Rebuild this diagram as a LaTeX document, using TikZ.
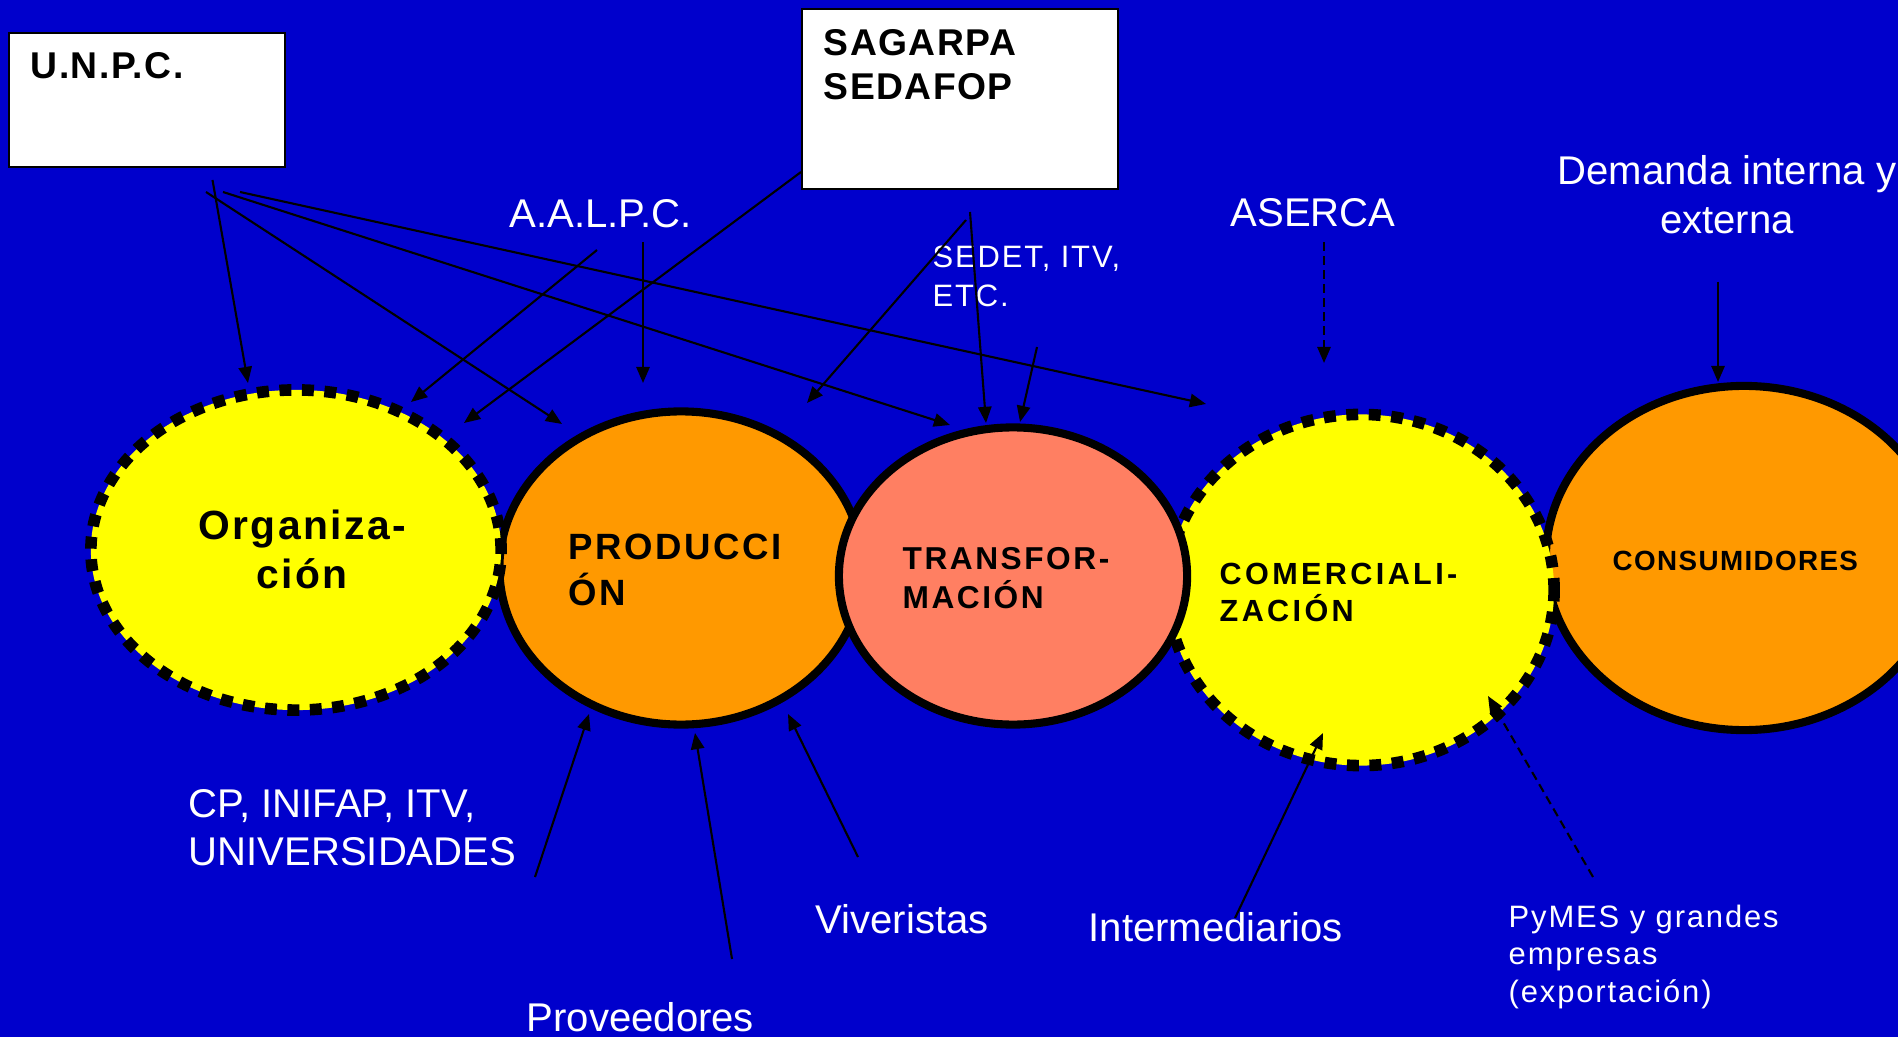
\documentclass[tikz,border=0pt]{standalone}
\usepackage{fontspec}
\setmainfont{Liberation Sans}
\usetikzlibrary{shapes.geometric,arrows.meta}
\definecolor{bg}{RGB}{0,0,204}
\definecolor{ylw}{RGB}{255,255,0}
\definecolor{org}{RGB}{255,153,0}
\definecolor{slm}{RGB}{255,127,98}
\newcommand\linestwo[2]{\vtop{\hbox{#1}\hbox{#2}}}
\newcommand\linesthree[3]{\vtop{\hbox{#1}\hbox{#2}\hbox{#3}}}
\newcommand\linestwoc[2]{\vtop{\halign{\hfil##\hfil\cr#1\cr#2\cr}}}
\tikzset{
  lbl/.style={text=white, inner sep=0pt, anchor=base west, font=\fontsize{11.4}{13.7}\selectfont},
  smalllbl/.style={text=white, inner sep=0pt, anchor=base west, font=\fontsize{8.8}{11}\selectfont\addfontfeatures{LetterSpace=6}},
  boxlbl/.style={inner sep=0pt, anchor=base west, font=\fontsize{10.6}{12.5}\selectfont\bfseries\addfontfeatures{LetterSpace=4}},
  elllbl/.style={inner sep=0pt, anchor=base west},
  solidell/.style={ellipse, draw=black, line width=2.3pt, inner sep=0pt},
  dashell/.style={ellipse, draw=black, line width=3.3pt, dash pattern=on 3.4pt off 3.0pt, inner sep=0pt},
  conn/.style={draw=black, line width=0.6pt, -{Triangle[length=4.6pt,width=3.8pt]}},
  dconn/.style={conn, dash pattern=on 2.5pt off 1.5pt},
  wbox/.style={draw=black, fill=white, line width=0.6pt, inner sep=0pt, anchor=north west},
}
\begin{document}
\begin{tikzpicture}[x=0.01cm,y=-0.01cm]
\useasboundingbox (0,0) rectangle (1898,1037);
\clip (0,0) rectangle (1898,1037);
\fill[bg] (0,0) rectangle (1898,1037);

% ellipses
\node[solidell, fill=org, minimum width=3.63cm, minimum height=3.13cm] (prod) at (681,568) {};
\node[dashell, fill=ylw, minimum width=4.10cm, minimum height=3.20cm] (orgz) at (296,550) {};
\node[solidell, fill=org, minimum width=3.96cm, minimum height=3.44cm] (cons) at (1744,558) {};
\node[dashell, fill=ylw, minimum width=3.86cm, minimum height=3.51cm] (comer) at (1361,590) {};
\node[solidell, fill=slm, minimum width=3.48cm, minimum height=2.97cm] (trans) at (1013,576) {};

% ellipse labels
\node[inner sep=0pt, anchor=base, font=\fontsize{11.6}{13.7}\selectfont\bfseries\addfontfeatures{LetterSpace=6}] (torg) at (302,540) {\linestwoc{Organiza-}{ción}};
\node[elllbl, font=\fontsize{10.4}{13.1}\selectfont\bfseries\addfontfeatures{LetterSpace=7}] (tprod) at (568,559) {\linestwo{PRODUCCI}{ÓN}};
\node[elllbl, font=\fontsize{9}{11.1}\selectfont\bfseries\addfontfeatures{LetterSpace=8}] (ttrans) at (902,569) {\linestwo{TRANSFOR-}{MACIÓN}};
\node[elllbl, font=\fontsize{8.7}{10.8}\selectfont\bfseries\addfontfeatures{LetterSpace=11}] (tcomer) at (1219,584) {\linestwo{COMERCIALI-}{ZACIÓN}};
\node[elllbl, font=\fontsize{7.9}{9.5}\selectfont\bfseries\addfontfeatures{LetterSpace=5}] (tcons) at (1612,570) {CONSUMIDORES};

% boxes
\node[wbox, minimum width=2.76cm, minimum height=1.34cm] (unpc) at (8,32) {};
\node[boxlbl] (tunpc) at (30,79) {U.N.P.C.};
\node[wbox, minimum width=3.16cm, minimum height=1.80cm] (sag) at (801,8) {};
\node[boxlbl] (tsag) at (823,56) {\linestwo{SAGARPA}{SEDAFOP}};

% free labels
\node[lbl] (aalpc) at (509,228) {A.A.L.P.C.};
\node[smalllbl] (sedet) at (932,268) {\linestwo{SEDET, ITV,}{ETC.}};
\node[lbl] (aserca) at (1230,227) {ASERCA};
\node[lbl, anchor=base] (dem) at (1727,185) {\linestwoc{Demanda interna y}{externa}};
\node[lbl] (cp) at (188,817) {\linestwo{CP, INIFAP, ITV,}{UNIVERSIDADES}};
\node[lbl] (viv) at (815,933) {Viveristas};
\node[lbl] (prov) at (526,1031) {Proveedores};
\node[lbl] (inter) at (1088,941) {Intermediarios};
\node[smalllbl, font=\fontsize{8.8}{10.7}\selectfont\addfontfeatures{LetterSpace=6}] (pymes) at (1508,927) {\linesthree{PyMES y grandes}{empresas}{(exportación)}};

% connector endpoints
\coordinate (u1) at (212.5,180); \coordinate (e1) at (248,383);
\coordinate (u2) at (206,192);   \coordinate (e2) at (562,424);
\coordinate (u3) at (223,192);   \coordinate (e3) at (950,425);
\coordinate (u4) at (240,192);   \coordinate (e4) at (1206,404);
\coordinate (a1) at (597,250);   \coordinate (e5) at (411,402);
\coordinate (a2) at (643,242);   \coordinate (e6) at (643,383);
\coordinate (s1) at (801,172);   \coordinate (e7) at (464,423);
\coordinate (s2) at (970,212);   \coordinate (e8) at (986,423);
\coordinate (s3) at (966,220);   \coordinate (e9) at (807,403);
\coordinate (d1) at (1037,347);  \coordinate (e10) at (1020,422);
\coordinate (r1) at (1324,242);  \coordinate (e11) at (1324,363);
\coordinate (m1) at (1718,282);  \coordinate (e12) at (1718,382);
\coordinate (c1) at (535,877);   \coordinate (e13) at (589,714);
\coordinate (p1) at (732,959);   \coordinate (e14) at (695,733);
\coordinate (v1) at (858,857);   \coordinate (e15) at (788,714);
\coordinate (i1) at (1235,918);  \coordinate (e16) at (1323,733);
\coordinate (y1) at (1593,877);  \coordinate (e17) at (1488,696);

\draw[conn] (u1) -- (e1);
\draw[conn] (u2) -- (e2);
\draw[conn] (u3) -- (e3);
\draw[conn] (u4) -- (e4);
\draw[conn] (a1) -- (e5);
\draw[conn] (a2) -- (e6);
\draw[conn] (s1) -- (e7);
\draw[conn] (s2) -- (e8);
\draw[conn] (s3) -- (e9);
\draw[conn] (d1) -- (e10);
\draw[dconn] (r1) -- (e11);
\draw[conn] (m1) -- (e12);
\draw[conn] (c1) -- (e13);
\draw[conn] (p1) -- (e14);
\draw[conn] (v1) -- (e15);
\draw[conn] (i1) -- (e16);
\draw[dconn] (y1) -- (e17);
\end{tikzpicture}
\end{document}
